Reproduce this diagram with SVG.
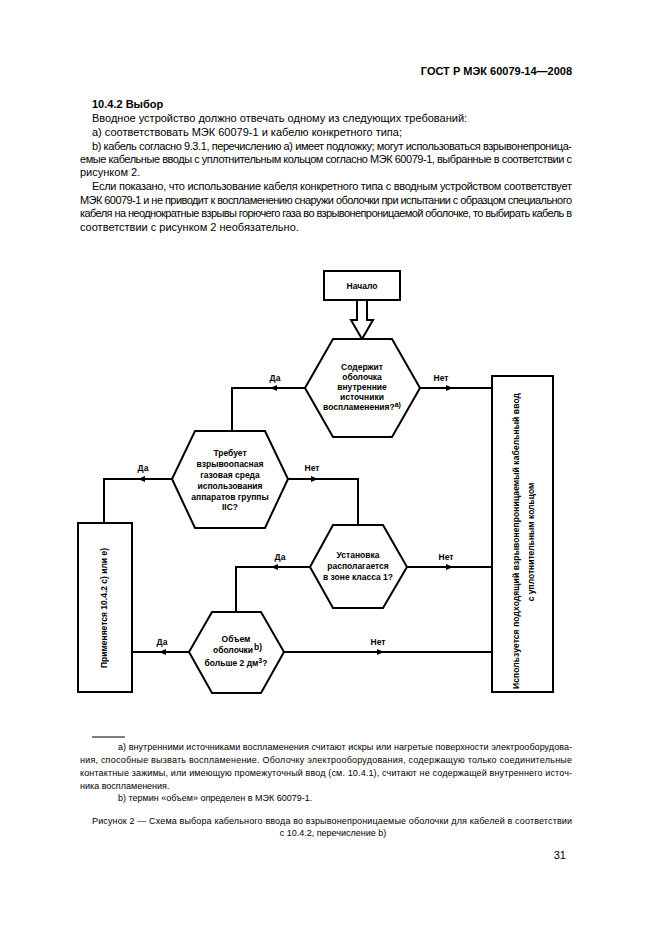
<svg xmlns="http://www.w3.org/2000/svg" width="661" height="936" viewBox="0 0 661 936">
<style>
.t{font-family:"Liberation Sans",Arial,sans-serif;font-size:11px;fill:#000}
.b{font-weight:bold}
.f{font-family:"Liberation Sans",Arial,sans-serif;font-size:9px;fill:#000}
.n{font-family:"Liberation Sans",Arial,sans-serif;font-size:8.5px;font-weight:bold;fill:#000;text-anchor:middle}
.s{fill:#fff;stroke:#000;stroke-width:2}
.c{fill:none;stroke:#000;stroke-width:2}
</style>
<defs>
<path id="ar" d="M0,0 L-7,-3 L-7,3 Z" fill="#000"/>
<path id="al" d="M0,0 L7,-3 L7,3 Z" fill="#000"/>
</defs>
<rect width="661" height="936" fill="#fff"/>
<text class="t b" x="572" y="75" text-anchor="end" font-size="9">ГОСТ Р МЭК 60079-14—2008</text>
<text class="t b" x="92" y="108">10.4.2 Выбор</text>
<text class="t" x="92" y="122">Вводное устройство должно отвечать одному из следующих требований:</text>
<text class="t" x="92" y="136">а) соответствовать МЭК 60079-1 и кабелю конкретного типа;</text>
<text class="t" x="92" y="150" textLength="480" lengthAdjust="spacing">b) кабель согласно 9.3.1, перечислению а) имеет подложку; могут использоваться взрывонепроница-</text>
<text class="t" x="80" y="163" textLength="492" lengthAdjust="spacing">емые кабельные вводы с уплотнительным кольцом согласно МЭК 60079-1,  выбранные в соответствии с</text>
<text class="t" x="80" y="176">рисунком 2.</text>
<text class="t" x="92" y="190" textLength="480" lengthAdjust="spacing">Если показано, что использование кабеля конкретного типа с вводным устройством соответствует</text>
<text class="t" x="80" y="204" textLength="492" lengthAdjust="spacing">МЭК 60079-1 и не приводит к воспламенению снаружи оболочки при испытании с образцом специального</text>
<text class="t" x="80" y="217" textLength="492" lengthAdjust="spacing">кабеля на неоднократные взрывы горючего газа во взрывонепроницаемой оболочке, то выбирать кабель в</text>
<text class="t" x="80" y="231">соответствии с рисунком 2 необязательно.</text>

<g id="connectors">
<path class="s" d="M357,300 V320 H351 L362,339 L373,320 H367 V300"/>
<path class="c" d="M305,388 H232 V431"/>
<path class="c" d="M420,388 H492"/>
<path class="c" d="M172,479 H104 V523"/>
<path class="c" d="M288,479 H358 V525"/>
<path class="c" d="M310,567 H236 V612"/>
<path class="c" d="M407,567 H492"/>
<path class="c" d="M189,652 H132"/>
<path class="c" d="M284,652 H492"/>
<use href="#al" x="270" y="388"/>
<use href="#ar" x="453" y="388"/>
<use href="#al" x="138" y="479"/>
<use href="#ar" x="318" y="479"/>
<use href="#al" x="271" y="567"/>
<use href="#ar" x="453" y="567"/>
<use href="#al" x="159" y="652"/>
<use href="#ar" x="384" y="652"/>
<text class="n" x="275" y="381">Да</text>
<text class="n" x="441" y="381">Нет</text>
<text class="n" x="143" y="471">Да</text>
<text class="n" x="312" y="471">Нет</text>
<text class="n" x="280" y="560">Да</text>
<text class="n" x="446" y="560">Нет</text>
<text class="n" x="162" y="645">Да</text>
<text class="n" x="378" y="645">Нет</text>
</g>

<g id="start">
<rect class="s" x="324" y="271" width="76" height="29"/>
<text class="n" x="362" y="289">Начало</text>
</g>

<g id="q1">
<polygon class="s" points="333,339 392,339 420,388 392,437 333,437 305,388"/>
<text class="n" x="362" y="370">Содержит</text>
<text class="n" x="362" y="380">оболочка</text>
<text class="n" x="362" y="390">внутренние</text>
<text class="n" x="362" y="400">источники</text>
<text class="n" x="362" y="410">воспламенения?<tspan dy="-3" font-size="7">а)</tspan></text>
</g>

<g id="q2">
<polygon class="s" points="195,431 265,431 288,479 265,528 195,528 172,479"/>
<text class="n" x="230" y="456">Требует</text>
<text class="n" x="230" y="467">взрывоопасная</text>
<text class="n" x="230" y="478">газовая среда</text>
<text class="n" x="230" y="489">использования</text>
<text class="n" x="230" y="500">аппаратов группы</text>
<text class="n" x="230" y="510">IIC?</text>
</g>

<g id="q3">
<polygon class="s" points="333,525 383,525 407,567 383,608 333,608 310,567"/>
<text class="n" x="358" y="558">Установка</text>
<text class="n" x="358" y="569">располагается</text>
<text class="n" x="358" y="580">в зоне класса 1?</text>
</g>

<g id="q4">
<polygon class="s" points="212,612 261,612 284,652 261,693 212,693 189,652"/>
<text class="n" x="236" y="642">Объем</text>
<text class="n" x="233" y="653">оболочки</text>
<text class="n" x="258" y="650" font-size="7">b)</text>
<text class="n" x="236" y="666">больше 2 дм<tspan dy="-3" font-size="7">3</tspan><tspan dy="3">?</tspan></text>
</g>

<g id="left-box">
<rect class="s" x="78" y="523" width="54" height="169"/>
<text class="n" transform="translate(107,608) rotate(-90)">Применяется 10.4.2 с) или е)</text>
</g>

<g id="right-box">
<rect class="s" x="492" y="376" width="61" height="316"/>
<text class="n" transform="translate(519,541) rotate(-90)" textLength="296" lengthAdjust="spacing">Используется подходящий взрывонепроницаемый кабельный ввод</text>
<text class="n" transform="translate(534,542) rotate(-90)">с уплотнительным кольцом</text>
</g>

<line x1="92" y1="737" x2="125" y2="737" stroke="#000" stroke-width="1"/>
<text class="f" x="118" y="750" textLength="454" lengthAdjust="spacing">а) внутренними источниками воспламенения считают искры или нагретые поверхности электрооборудова-</text>
<text class="f" x="80" y="763" textLength="492" lengthAdjust="spacing">ния, способные вызвать воспламенение. Оболочку электрооборудования, содержащую только соединительные</text>
<text class="f" x="80" y="776" textLength="492" lengthAdjust="spacing">контактные зажимы, или имеющую промежуточный ввод (см. 10.4.1), считают не содержащей внутреннего источ-</text>
<text class="f" x="80" y="789">ника воспламенения.</text>
<text class="f" x="118" y="801">b) термин «объем» определен в МЭК 60079-1.</text>
<text class="f" x="92" y="824" textLength="480" lengthAdjust="spacing">Рисунок 2 — Схема выбора кабельного ввода во взрывонепроницаемые оболочки для кабелей в соответствии</text>
<text class="f" x="333" y="836" text-anchor="middle">с 10.4.2, перечисление b)</text>
<text class="t" x="566" y="859" text-anchor="end" font-size="10">31</text>
</svg>
